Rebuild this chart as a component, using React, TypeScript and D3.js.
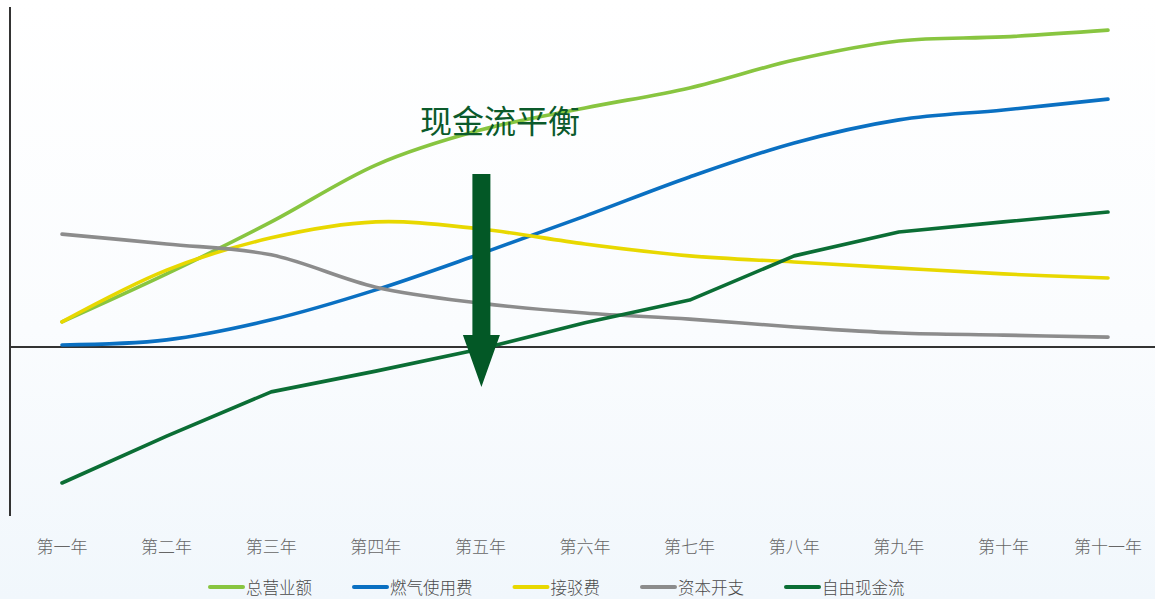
import React from "react";
import * as d3 from "d3";

const categories = ["第一年","第二年","第三年","第四年","第五年","第六年","第七年","第八年","第九年","第十年","第十一年"];
const revenue = [7.4, 21.5, 36.8, 53.5, 63.8, 70.3, 76.2, 84.4, 90.0, 91.2, 93.2];
const gasFee = [0.6, 2.1, 8.0, 16.8, 27.4, 38.5, 50.0, 60.0, 66.8, 69.7, 72.9];
const connFee = [7.4, 22.6, 32.1, 36.8, 34.7, 30.3, 26.8, 25.0, 23.2, 21.5, 20.3];
const capex = [33.2, 30.3, 27.1, 17.6, 12.9, 10.0, 8.2, 5.9, 4.1, 3.5, 2.9];
const freeCash = [-40.0, -26.2, -13.2, -7.1, -0.6, 7.1, 13.8, 26.8, 33.8, 36.8, 39.7];
const seriesNames = ["总营业额", "燃气使用费", "接驳费", "资本开支", "自由现金流"];
const seriesColors = ["#88c540", "#0a70c2", "#e8d800", "#8c8c8c", "#0b6e35"];
const annotationText = "现金流平衡";

const W = 1155, H = 599;
const FONT = "'Noto Sans CJK SC', 'Noto Sans', sans-serif";

export default function App() {
  const x = d3.scalePoint<string>().domain(categories).range([62, 1108]);
  const y = d3.scaleLinear().domain([-50, 100]).range([517, 7]);
  const allSeries = [revenue, gasFee, connFee, capex, freeCash];
  const smooth = d3.line<number>()
    .x((_, i) => x(categories[i]) as number)
    .y((d) => y(d))
    .curve(d3.curveCardinal.tension(0));
  const straight = d3.line<number>()
    .x((_, i) => x(categories[i]) as number)
    .y((d) => y(d))
    .curve(d3.curveLinear);

  const legendFont = 16.5;
  const lineLen = 33;
  let cursor = 210;
  const legendItems = seriesNames.map((name, i) => {
    const start = cursor;
    const tw = name.length * legendFont;
    cursor += lineLen + 3 + tw + 42;
    return { name, color: seriesColors[i], start, tw };
  });

  const ax = (x("第五年") as number) + 1;
  const shaftHalf = 9, headHalf = 18.5;
  const yTop = y(50.9), yHead = y(3.5), yTip = y(-11.8);
  const arrow = [
    [ax - shaftHalf, yTop], [ax + shaftHalf, yTop], [ax + shaftHalf, yHead],
    [ax + headHalf, yHead], [ax, yTip], [ax - headHalf, yHead], [ax - shaftHalf, yHead],
  ].map((p) => p.join(",")).join(" ");

  return (
    <svg width={W} height={H} style={{ position: "absolute", left: 0, top: 0 }} fontFamily={FONT}>
      <defs>
        <linearGradient id="bg" x1="0" y1="0" x2="0" y2="1">
          <stop offset="0" stopColor="#ffffff" />
          <stop offset="0.55" stopColor="#fafcfe" />
          <stop offset="1" stopColor="#f1f7fc" />
        </linearGradient>
      </defs>
      <rect x={0} y={0} width={W} height={H} fill="url(#bg)" />
      <line x1={10} x2={10} y1={7} y2={516} stroke="#333" strokeWidth={2} />
      <line x1={10} x2={W} y1={y(0)} y2={y(0)} stroke="#333" strokeWidth={2} />
      {allSeries.map((s, i) => (
        <path key={i} d={(i === 4 ? straight : smooth)(s) || ""} fill="none"
          stroke={seriesColors[i]} strokeWidth={3.6} strokeLinecap="round" strokeLinejoin="round" />
      ))}
      <text x={500} y={133} textAnchor="middle" fontSize={32} fill="#0b5a2b">{annotationText}</text>
      <polygon points={arrow} fill="#035826" />
      {categories.map((c) => (
        <text key={c} x={x(c)} y={553} textAnchor="middle" fontSize={17} fontWeight={300} fill="#666">{c}</text>
      ))}
      {legendItems.map((it) => (
        <g key={it.name}>
          <line x1={it.start} x2={it.start + lineLen} y1={587} y2={587} stroke={it.color} strokeWidth={4} strokeLinecap="round" />
          <text x={it.start + lineLen + 3} y={594} fontSize={legendFont} fontWeight={300} fill="#4a4a4a">{it.name}</text>
        </g>
      ))}
    </svg>
  );
}
